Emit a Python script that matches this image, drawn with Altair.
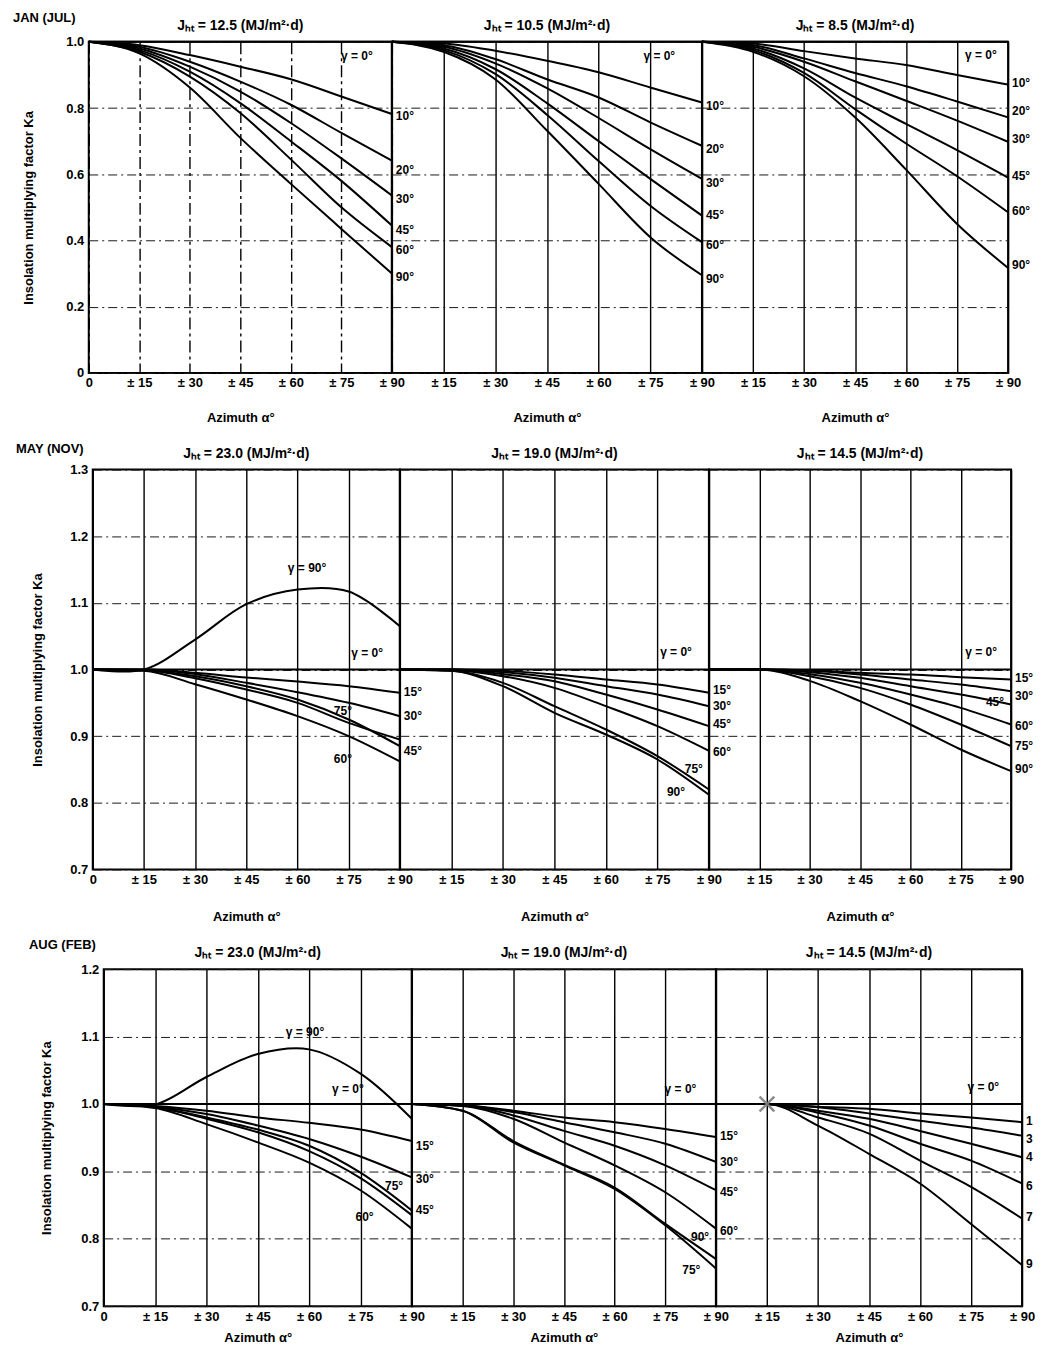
import altair as alt
import pandas as pd

FONT = "Liberation Sans"

AZIMUTH = [0, 15, 30, 45, 60, 75, 90]

# ---------------- Row 1 : JAN (JUL) ----------------
JAN_J125 = {
    "0°":  [1.0, 1.0, 1.0, 1.0, 1.0, 1.0, 1.0],
    "10°": [1.0, 0.990, 0.960, 0.925, 0.887, 0.835, 0.782],
    "20°": [1.0, 0.985, 0.940, 0.880, 0.810, 0.725, 0.641],
    "30°": [1.0, 0.980, 0.925, 0.850, 0.755, 0.648, 0.536],
    "45°": [1.0, 0.975, 0.910, 0.815, 0.700, 0.580, 0.445],
    "60°": [1.0, 0.970, 0.895, 0.785, 0.645, 0.500, 0.380],
    "90°": [1.0, 0.965, 0.862, 0.710, 0.571, 0.435, 0.300],
}
JAN_J105 = {
    "0°":  [1.0, 1.0, 1.0, 1.0, 1.0, 1.0, 1.0],
    "10°": [1.0, 0.995, 0.973, 0.943, 0.908, 0.862, 0.817],
    "20°": [1.0, 0.990, 0.948, 0.887, 0.832, 0.757, 0.686],
    "30°": [1.0, 0.985, 0.935, 0.860, 0.770, 0.676, 0.586],
    "45°": [1.0, 0.980, 0.918, 0.815, 0.700, 0.586, 0.475],
    "60°": [1.0, 0.975, 0.903, 0.780, 0.640, 0.505, 0.395],
    "90°": [1.0, 0.970, 0.887, 0.732, 0.571, 0.410, 0.295],
}
JAN_J85 = {
    "0°":  [1.0, 1.0, 1.0, 1.0, 1.0, 1.0, 1.0],
    "10°": [1.0, 0.995, 0.972, 0.950, 0.930, 0.900, 0.871],
    "20°": [1.0, 0.990, 0.950, 0.906, 0.866, 0.820, 0.772],
    "30°": [1.0, 0.985, 0.940, 0.881, 0.822, 0.762, 0.698],
    "45°": [1.0, 0.980, 0.920, 0.832, 0.752, 0.673, 0.590],
    "60°": [1.0, 0.975, 0.906, 0.797, 0.693, 0.594, 0.485],
    "90°": [1.0, 0.970, 0.896, 0.772, 0.614, 0.450, 0.317],
}

# ---------------- Row 2 : MAY (NOV) ----------------
MAY_J230 = {
    "0°":  [1.0, 1.0, 1.0, 1.0, 1.0, 1.0, 1.0],
    "15°": [1.0, 1.000, 0.995, 0.988, 0.982, 0.975, 0.965],
    "30°": [1.0, 1.000, 0.993, 0.980, 0.966, 0.950, 0.930],
    "45°": [1.0, 0.999, 0.990, 0.975, 0.955, 0.925, 0.885],
    "75°": [1.0, 0.999, 0.987, 0.970, 0.950, 0.920, 0.895],
    "60°": [1.0, 0.998, 0.978, 0.955, 0.930, 0.900, 0.862],
    "90°": [1.0, 1.000, 1.045, 1.098, 1.120, 1.117, 1.065],
}
MAY_J190 = {
    "0°":  [1.0, 1.0, 1.0, 1.0, 1.0, 1.0, 1.0],
    "15°": [1.0, 1.000, 0.998, 0.9925, 0.985, 0.9775, 0.965],
    "30°": [1.0, 1.000, 0.996, 0.9875, 0.975, 0.9625, 0.945],
    "45°": [1.0, 1.000, 0.993, 0.9825, 0.9625, 0.940, 0.915],
    "60°": [1.0, 0.999, 0.990, 0.9725, 0.945, 0.915, 0.878],
    "75°": [1.0, 0.998, 0.980, 0.945, 0.910, 0.870, 0.820],
    "90°": [1.0, 0.998, 0.975, 0.935, 0.9025, 0.865, 0.812],
}
MAY_J145 = {
    "0°":  [1.0, 1.0, 1.0, 1.0, 1.0, 1.0, 1.0],
    "15°": [1.0, 1.000, 0.999, 0.995, 0.9925, 0.9885, 0.985],
    "30°": [1.0, 1.000, 0.998, 0.9925, 0.985, 0.9775, 0.9675],
    "45°": [1.0, 1.000, 0.996, 0.9875, 0.975, 0.9625, 0.9475],
    "60°": [1.0, 1.000, 0.993, 0.980, 0.9625, 0.9425, 0.9175],
    "75°": [1.0, 1.000, 0.990, 0.9725, 0.9475, 0.9175, 0.885],
    "90°": [1.0, 1.000, 0.983, 0.9525, 0.9175, 0.880, 0.8475],
}

# ---------------- Row 3 : AUG (FEB) ----------------
AUG_J230 = {
    "0°":  [1.0, 1.0, 1.0, 1.0, 1.0, 1.0, 1.0],
    "15°": [1.0, 0.997, 0.990, 0.980, 0.972, 0.962, 0.945],
    "30°": [1.0, 0.996, 0.985, 0.968, 0.948, 0.922, 0.891],
    "45°": [1.0, 0.995, 0.978, 0.958, 0.930, 0.890, 0.835],
    "75°": [1.0, 0.995, 0.980, 0.962, 0.938, 0.898, 0.842],
    "60°": [1.0, 0.994, 0.970, 0.943, 0.913, 0.872, 0.815],
    "90°": [1.0, 0.999, 1.040, 1.074, 1.081, 1.045, 0.978],
}
AUG_J190 = {
    "0°":  [1.0, 1.0, 1.0, 1.0, 1.0, 1.0, 1.0],
    "15°": [1.0, 0.998, 0.990, 0.980, 0.973, 0.963, 0.951],
    "30°": [1.0, 0.998, 0.988, 0.973, 0.958, 0.941, 0.914],
    "45°": [1.0, 0.998, 0.983, 0.960, 0.938, 0.909, 0.872],
    "60°": [1.0, 0.997, 0.978, 0.943, 0.909, 0.869, 0.815],
    "75°": [1.0, 0.990, 0.943, 0.909, 0.874, 0.820, 0.756],
    "90°": [1.0, 0.990, 0.945, 0.910, 0.876, 0.822, 0.770],
}
AUG_J145 = {
    "0°":  [1.0, 1.0, 1.0, 1.0, 1.0, 1.0, 1.0],
    "15°": [1.0, 1.000, 0.996, 0.993, 0.986, 0.980, 0.973],
    "30°": [1.0, 1.000, 0.995, 0.986, 0.975, 0.965, 0.953],
    "45°": [1.0, 1.000, 0.990, 0.978, 0.960, 0.941, 0.921],
    "60°": [1.0, 1.000, 0.987, 0.968, 0.941, 0.916, 0.882],
    "75°": [1.0, 1.000, 0.980, 0.956, 0.916, 0.877, 0.830],
    "90°": [1.0, 1.000, 0.968, 0.926, 0.882, 0.822, 0.761],
}

# curve labels: (text, azimuth, Ka, kind) kind "out" = right of frame, "in" = inside
JAN_J125_LABELS = [("γ = 0°", 79.6, 0.958, "in"), ("10°", 90, 0.777, "out"), ("20°", 90, 0.614, "out"),
                   ("30°", 90, 0.524, "out"), ("45°", 90, 0.431, "out"), ("60°", 90, 0.37, "out"),
                   ("90°", 90, 0.289, "out")]
JAN_J105_LABELS = [("γ = 0°", 77.6, 0.958, "in"), ("10°", 90, 0.807, "out"), ("20°", 90, 0.675, "out"),
                   ("30°", 90, 0.575, "out"), ("45°", 90, 0.476, "out"), ("60°", 90, 0.386, "out"),
                   ("90°", 90, 0.283, "out")]
JAN_J85_LABELS = [("γ = 0°", 82.0, 0.96, "in"), ("10°", 90, 0.877, "out"), ("20°", 90, 0.792, "out"),
                  ("30°", 90, 0.705, "out"), ("45°", 90, 0.596, "out"), ("60°", 90, 0.49, "out"),
                  ("90°", 90, 0.325, "out")]
MAY_J230_LABELS = [("γ = 90°", 62.8, 1.153, "in"), ("γ = 0°", 80.4, 1.025, "in"), ("75°", 73.3, 0.937, "in"),
                   ("60°", 73.3, 0.865, "in"), ("15°", 90, 0.966, "out"), ("30°", 90, 0.93, "out"),
                   ("45°", 90, 0.877, "out")]
MAY_J190_LABELS = [("γ = 0°", 80.4, 1.027, "in"), ("15°", 90, 0.97, "out"), ("30°", 90, 0.945, "out"),
                   ("45°", 90, 0.918, "out"), ("60°", 90, 0.876, "out"), ("75°", 85.6, 0.85, "in"),
                   ("90°", 80.4, 0.816, "in")]
MAY_J145_LABELS = [("γ = 0°", 81.1, 1.027, "in"), ("15°", 90, 0.988, "out"), ("30°", 90, 0.96, "out"),
                   ("45°", 85.2, 0.951, "in"), ("60°", 90, 0.915, "out"), ("75°", 90, 0.885, "out"),
                   ("90°", 90, 0.85, "out")]
AUG_J230_LABELS = [("γ = 90°", 58.8, 1.107, "in"), ("γ = 0°", 71.3, 1.022, "in"), ("75°", 84.8, 0.879, "in"),
                   ("60°", 76.2, 0.833, "in"), ("15°", 90, 0.938, "out"), ("30°", 90, 0.889, "out"),
                   ("45°", 90, 0.842, "out")]
AUG_J190_LABELS = [("γ = 0°", 79.5, 1.022, "in"), ("15°", 90, 0.953, "out"), ("30°", 90, 0.914, "out"),
                   ("45°", 90, 0.87, "out"), ("60°", 90, 0.812, "out"), ("90°", 85.3, 0.803, "in"),
                   ("75°", 82.7, 0.753, "in")]
AUG_J145_LABELS = [("γ = 0°", 78.6, 1.025, "in"), ("15°", 90, 0.975, "out"), ("30°", 90, 0.948, "out"),
                   ("45°", 90, 0.922, "out"), ("60°", 90, 0.879, "out"), ("75°", 90, 0.833, "out"),
                   ("90°", 90, 0.763, "out")]

MARKER_AZ = [15]
MARKER_KA = [1.0]

ROW1_TICKS = [0, 0.1, 0.2, 0.3, 0.4, 0.5, 0.6, 0.7, 0.8, 0.9, 1.0]
ROW2_TICKS = [0.7, 0.8, 0.9, 1.0, 1.1, 1.2, 1.3]
ROW3_TICKS = [0.7, 0.8, 0.9, 1.0, 1.1, 1.2]

Y_EXPR_ROW1 = "round(datum.value * 10) % 2 == 0 ? (datum.value == 0 ? '0' : format(datum.value, '.1f')) : ''"
Y_EXPR_OTHER = "format(datum.value, '.1f')"


def curves_frame(series, hump):
    rows = []
    for g, vals in series.items():
        if (max(vals) > 1.0) != hump:
            continue
        for a, v in zip(AZIMUTH, vals):
            rows.append({"gamma": g, "az": a, "k": v})
    return pd.DataFrame(rows)


def labels_frame(labels, kind):
    return pd.DataFrame([{"t": t, "az": x, "k": y} for t, x, y, k in labels if k == kind])


def text_at(txt, px, py, size, align="left"):
    return alt.Chart(pd.DataFrame({"t": [txt]})).mark_text(
        align=align, baseline="middle", font=FONT, fontSize=size, fontWeight="bold", color="black"
    ).encode(x=alt.value(px), y=alt.value(py), text="t:N")


def panel(series, labels, title, ydom, yvals, yexpr, width, height, first, xdash,
          xtitle_pad, ytitle_pad, row_title=None, row_xy=None, anchors=None, marker=False,
          out_limit=0):
    xs = alt.Scale(domain=[0, 90], nice=False, zero=False)
    ys = alt.Scale(domain=ydom, nice=False, zero=False)
    xexpr = ("datum.value == 0 ? '0' : '± ' + datum.value") if first else \
        ("datum.value == 0 ? '' : '± ' + datum.value")
    xaxis = alt.Axis(values=AZIMUTH, grid=True, gridColor="black", gridWidth=1.4, gridDash=xdash,
                     ticks=False, domain=False, labelExpr=xexpr, labelFlush=False, labelOverlap=False,
                     labelFont=FONT, labelFontSize=13, labelFontWeight="bold", labelColor="black",
                     labelPadding=4, title="Azimuth   α°", titleFont=FONT, titleFontSize=13,
                     titleFontWeight="bold", titleColor="black", titlePadding=xtitle_pad)
    ykw = dict(values=yvals, grid=True, gridColor="#1a1a1a", gridWidth=1, gridDash=[9, 4, 2, 4],
               ticks=False, domain=False)
    if first:
        ykw.update(labels=True, labelExpr=yexpr, labelFont=FONT, labelFontSize=13,
                   labelFontWeight="bold", labelColor="black", labelPadding=5,
                   title="Insolation multiplying factor      Ka", titleFont=FONT, titleFontSize=13,
                   titleFontWeight="bold", titleColor="black", titlePadding=ytitle_pad)
    else:
        ykw.update(labels=False, title="")
    X = alt.X("az:Q", scale=xs)
    Y = alt.Y("k:Q", scale=ys)
    lines = alt.Chart(curves_frame(series, False)).mark_line(
        color="black", strokeWidth=2, interpolate="monotone"
    ).encode(
        x=alt.X("az:Q", scale=xs, axis=xaxis),
        y=alt.Y("k:Q", scale=ys, axis=alt.Axis(**ykw)),
        detail="gamma:N",
    )
    layers = [lines]
    hump = curves_frame(series, True)
    if len(hump):
        layers.append(alt.Chart(hump).mark_line(
            color="black", strokeWidth=2, interpolate="catmull-rom"
        ).encode(x=X, y=Y, detail="gamma:N"))
    out = labels_frame(labels, "out")
    if len(out):
        tkw = dict(align="left", baseline="middle", dx=4, font=FONT, fontSize=12, fontWeight="bold",
                   color="black")
        if out_limit:
            # the page's right margin cuts these labels, as on the original scan
            tkw.update(limit=out_limit, ellipsis="\u200b")
        layers.append(alt.Chart(out).mark_text(**tkw).encode(x=X, y=Y, text="t:N"))
    inside = labels_frame(labels, "in")
    if len(inside):
        layers.append(alt.Chart(inside).mark_text(
            align="center", baseline="middle", font=FONT, fontSize=12, fontWeight="bold", color="black"
        ).encode(x=X, y=Y, text="t:N"))
    if marker:
        layers.append(alt.Chart(pd.DataFrame({"az": MARKER_AZ, "k": MARKER_KA})).mark_point(
            shape="M-1,-1L1,1M-1,1L1,-1", size=220, color="#808080", strokeWidth=2.5, filled=False, opacity=0.9
        ).encode(x=X, y=Y))
    # panel heading
    layers.append(text_at(title, width / 2, -16, 14, align="center"))
    if row_title:
        layers.append(text_at(row_title, row_xy[0], row_xy[1], 13))
    if anchors:
        # invisible layout anchors fixing the row's outer extent (left, top, bottom)
        ax, top, bottom = anchors
        for px, py in [(ax, top), (ax, height + bottom)]:
            layers.append(alt.Chart(pd.DataFrame({"t": ["."]})).mark_text(
                align="left", baseline="top", fontSize=2, opacity=0
            ).encode(x=alt.value(px), y=alt.value(py), text="t:N"))
    return alt.layer(*layers).properties(width=width, height=height)


def spacer(w, h):
    return alt.Chart(pd.DataFrame({"v": [0]})).mark_point(opacity=0).encode(
        x=alt.value(0), y=alt.value(0)
    ).properties(width=w, height=h, view=alt.ViewBackground(strokeOpacity=0))


DASHED = [12, 4, 3, 4]
SOLID = [1, 0]

row1 = alt.hconcat(
    panel(JAN_J125, JAN_J125_LABELS, "Jₕₜ = 12.5 (MJ/m²·d)", [0, 1.0], ROW1_TICKS, Y_EXPR_ROW1,
          304, 332, True, DASHED, 22, 30, "JAN (JUL)", (-76, -24), (-80, -31, 55)),
    panel(JAN_J105, JAN_J105_LABELS, "Jₕₜ = 10.5 (MJ/m²·d)", [0, 1.0], ROW1_TICKS, Y_EXPR_ROW1,
          311, 332, False, SOLID, 22, 22),
    panel(JAN_J85, JAN_J85_LABELS, "Jₕₜ = 8.5 (MJ/m²·d)", [0, 1.0], ROW1_TICKS, Y_EXPR_ROW1,
          307, 332, False, SOLID, 22, 22),
    spacing=0, bounds="flush",
)
row2 = alt.hconcat(
    spacer(4, 10),
    panel(MAY_J230, MAY_J230_LABELS, "Jₕₜ = 23.0 (MJ/m²·d)", [0.7, 1.3], ROW2_TICKS, Y_EXPR_OTHER,
          308, 401, True, SOLID, 24, 25, "MAY (NOV)", (-77, -21), (0, -31, 58)),
    panel(MAY_J190, MAY_J190_LABELS, "Jₕₜ = 19.0 (MJ/m²·d)", [0.7, 1.3], ROW2_TICKS, Y_EXPR_OTHER,
          310, 401, False, SOLID, 24, 18),
    panel(MAY_J145, MAY_J145_LABELS, "Jₕₜ = 14.5 (MJ/m²·d)", [0.7, 1.3], ROW2_TICKS, Y_EXPR_OTHER,
          303, 401, False, SOLID, 24, 18),
    spacing=0, bounds="flush",
)
row3 = alt.hconcat(
    spacer(15, 10),
    panel(AUG_J230, AUG_J230_LABELS, "Jₕₜ = 23.0 (MJ/m²·d)", [0.7, 1.2], ROW3_TICKS, Y_EXPR_OTHER,
          309, 338, True, SOLID, 8, 27, "AUG (FEB)", (-75, -24), (0, -31, 30)),
    panel(AUG_J190, AUG_J190_LABELS, "Jₕₜ = 19.0 (MJ/m²·d)", [0.7, 1.2], ROW3_TICKS, Y_EXPR_OTHER,
          305, 338, False, SOLID, 8, 16),
    panel(AUG_J145, AUG_J145_LABELS, "Jₕₜ = 14.5 (MJ/m²·d)", [0.7, 1.2], ROW3_TICKS, Y_EXPR_OTHER,
          307, 338, False, SOLID, 8, 16, marker=True, out_limit=8),
    spacing=0, bounds="flush",
)

chart = alt.vconcat(row1, row2, row3, spacing=7).properties(
    padding={"left": 0, "top": 0, "right": 0, "bottom": 0}
).configure(background="white").configure_view(stroke="black", strokeWidth=2)

chart.save("out.html", embed_options={"renderer": "svg", "actions": False})
